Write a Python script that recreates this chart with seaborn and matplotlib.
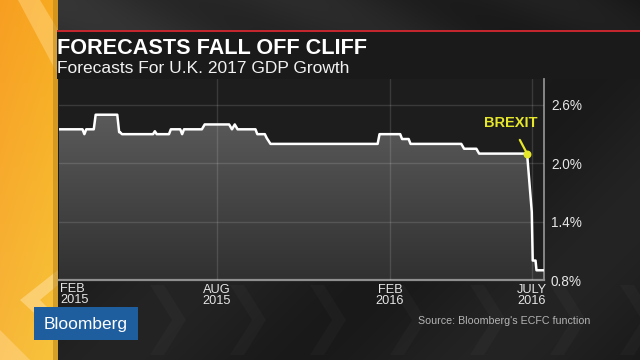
import numpy as np
import pandas as pd
import matplotlib
matplotlib.use("Agg")
import matplotlib.pyplot as plt
import matplotlib.dates as mdates
from matplotlib.patches import Rectangle, Polygon
import seaborn as sns

# ---------------- data ----------------
dates = ["2015-02-14", "2015-03-11", "2015-03-13", "2015-03-15", "2015-03-23",
         "2015-03-25", "2015-04-17", "2015-04-19", "2015-04-20", "2015-04-22",
         "2015-05-25", "2015-05-27", "2015-05-29", "2015-06-11", "2015-06-13",
         "2015-06-23", "2015-06-25", "2015-06-27", "2015-07-16", "2015-07-19",
         "2015-08-14", "2015-08-17", "2015-08-20", "2015-08-23", "2015-09-11",
         "2015-09-13", "2015-09-21", "2015-09-23", "2015-09-27", "2016-01-19",
         "2016-01-21", "2016-02-12", "2016-02-14", "2016-02-21", "2016-02-23",
         "2016-04-17", "2016-04-20", "2016-05-03", "2016-05-06", "2016-06-26",
         "2016-07-01", "2016-07-02", "2016-07-05", "2016-07-06", "2016-07-14"]
values = [2.35, 2.35, 2.30, 2.35, 2.35,
          2.50, 2.50, 2.32, 2.32, 2.30,
          2.30, 2.33, 2.30, 2.30, 2.35,
          2.35, 2.30, 2.35, 2.35, 2.40,
          2.40, 2.35, 2.40, 2.35, 2.35,
          2.30, 2.30, 2.26, 2.20, 2.20,
          2.30, 2.30, 2.25, 2.25, 2.20,
          2.20, 2.15, 2.15, 2.10, 2.10,
          1.50, 1.00, 1.00, 0.90, 0.90]

x_tick_dates = ["2015-08-01", "2016-02-01", "2016-07-01"]
x_tick_labels = ["AUG\n2015", "FEB\n2016", "JULY\n2016"]
first_label = "FEB\n2015"
y_ticks = [0.8, 1.4, 2.0, 2.6]
y_tick_labels = ["0.8%", "1.4%", "2.0%", "2.6%"]
brexit_date = "2016-06-26"
brexit_value = 2.10

title = "FORECASTS FALL OFF CLIFF"
subtitle = "Forecasts For U.K. 2017 GDP Growth"
source = "Source: Bloomberg's ECFC function"

# ---------------- styling ----------------
sns.set_theme(style="dark")
FONT = ["Liberation Sans", "DejaVu Sans"]
plt.rcParams["font.family"] = FONT

W, H = 640, 360
fig = plt.figure(figsize=(6.4, 3.6), dpi=100)
fig.patch.set_facecolor("#1e1e1e")

# background / decoration axes in pixel coordinates
bg = fig.add_axes([0, 0, 1, 1])
bg.set_xlim(0, W)
bg.set_ylim(H, 0)
bg.axis("off")

# dark background field with soft diagonal variation
yy, xx = np.mgrid[0:H, 0:W]
field = 0.12 + 0.02 * np.sin((xx + yy) / 60.0)
field[:31, :] = 0.20 - 0.10 * (xx[:31, :] / W) + 0.02 * np.sin((xx[:31, :] - 2 * yy[:31, :]) / 40.0)
bg.imshow(np.dstack([field] * 3), extent=[0, W, H, 0], aspect="auto", zorder=0)

# faint chevrons in the lower band
for cx in [150, 230, 310, 390, 470, 550, 620]:
    bg.add_patch(Polygon([(cx, 285), (cx + 22, 320), (cx, 355), (cx + 14, 355),
                          (cx + 36, 320), (cx + 14, 285)], closed=True,
                         facecolor="white", alpha=0.025, lw=0, zorder=0.5))

# orange strip at left
oy = np.linspace(0, 1, H)[:, None]
ox = np.linspace(0, 1, 58)[None, :]
g = np.clip(0.62 + 0.10 * oy + 0.05 * ox, 0, 1)
b = np.clip(0.13 + 0.10 * oy + 0 * ox, 0, 1)
bg.imshow(np.dstack([0.97 * np.ones_like(g), g, b]),
          extent=[0, 58, H, 0], aspect="auto", zorder=1)
bg.add_patch(Polygon([(18, 0), (40, 0), (58, 30), (58, 75)], closed=True,
                     facecolor="#ffd27a", alpha=0.55, lw=0, zorder=2))
bg.add_patch(Polygon([(58, 270), (20, 300), (58, 335), (58, 318), (40, 300), (58, 285)],
                     closed=True, facecolor="#ffe0a0", alpha=0.55, lw=0, zorder=2))
bg.add_patch(Polygon([(0, 330), (30, 360), (0, 360)], closed=True,
                     facecolor="#ffd890", alpha=0.5, lw=0, zorder=2))
bg.add_patch(Rectangle((53, 0), 5, H, facecolor="#b8841e", alpha=0.55, lw=0, zorder=2))

# title band
bg.add_patch(Rectangle((57, 31), W - 57, 48, facecolor="#1a1a1a", lw=0, zorder=3))
bg.add_patch(Rectangle((57, 29.5), W - 57, 2.5, facecolor="#c4262e", lw=0, zorder=4))
bg.text(57, 54, title, color="white", fontsize=15.6, fontweight="bold",
        ha="left", va="baseline", zorder=5)
bg.text(57, 73, subtitle, color="#f2f2f2", fontsize=12.5,
        ha="left", va="baseline", zorder=5)

# Bloomberg box and source
bg.add_patch(Rectangle((34, 307), 104, 33, facecolor="#1f5e9e", lw=0, zorder=5))
bg.text(86, 324, "Bloomberg", color="white", fontsize=12.5, ha="center", va="center",
        zorder=6)
bg.text(418, 321, source, color="#b4b4b4", fontsize=7.7, ha="left", va="center",
        zorder=6)

# ---------------- main chart ----------------
df = pd.DataFrame({"date": pd.to_datetime(dates), "value": values})
x_left = pd.Timestamp("2015-02-14")
x_right = pd.Timestamp("2016-07-14")

ax = fig.add_axes([59 / W, 1 - 280 / H, (544 - 59) / W, (280 - 79) / H])
ax.set_facecolor("#1d1d1d")
y_bottom, y_top = 0.8, 2.6 + 26 * (1.8 / 175)
ax.set_xlim(x_left, x_right)
ax.set_ylim(y_bottom, y_top)

# gradient fill under the line
xn = mdates.date2num(df["date"])
grad = np.linspace(0, 1, 256)[:, None]
shade = 0.36 - 0.17 * grad
img = ax.imshow(np.dstack([shade, shade, shade]),
                extent=[mdates.date2num(x_left), mdates.date2num(x_right), y_bottom, 2.55],
                aspect="auto", origin="upper", zorder=1)
clip = Polygon(np.vstack([np.column_stack([xn, df["value"]]),
                          [[xn[-1], y_bottom], [xn[0], y_bottom]]]),
               closed=True, transform=ax.transData)
img.set_clip_path(clip)

sns.lineplot(data=df, x="date", y="value", ax=ax, color="white", linewidth=1.8,
             zorder=4, sort=False)

# ticks and grid
ax.set_xticks(pd.to_datetime(x_tick_dates))
ax.set_xticklabels(x_tick_labels)
ax.set_yticks(y_ticks)
ax.set_yticklabels(y_tick_labels)
ax.yaxis.tick_right()
ax.grid(True, color="white", alpha=0.13, linewidth=1.0)
ax.set_axisbelow(False)
for gl in ax.get_xgridlines() + ax.get_ygridlines():
    gl.set_zorder(2.5)
ax.tick_params(axis="x", length=0, pad=3, labelsize=9.2, labelcolor="#e6e6e6")
ax.tick_params(axis="y", length=0, pad=5, labelsize=9.8, labelcolor="#e6e6e6")
for lab in ax.get_xticklabels():
    lab.set_linespacing(0.9)
ax.set_xlabel("")
ax.set_ylabel("")

for side in ["top", "left"]:
    ax.spines[side].set_visible(False)
ax.spines["bottom"].set_color("#8e8e8e")
ax.spines["bottom"].set_linewidth(1.6)
ax.spines["right"].set_color("#8e8e8e")
ax.spines["right"].set_linewidth(1.3)

ax.text(mdates.date2num(x_left) + 1, y_bottom - 0.03, first_label, ha="left", va="top",
        color="#e6e6e6", fontsize=9.2, linespacing=0.9, clip_on=False)

# Brexit annotation
yellow = "#e6e62a"
ax.scatter([pd.Timestamp(brexit_date)], [brexit_value], s=22, color=yellow, zorder=6)
ax.annotate("BREXIT", xy=(pd.Timestamp(brexit_date), brexit_value),
            xytext=(pd.Timestamp("2016-06-09"), 2.41),
            ha="center", va="center", color=yellow, fontsize=10.5, fontweight="bold",
            arrowprops=dict(arrowstyle="-", color=yellow, lw=1.6, shrinkA=5, shrinkB=0),
            zorder=6)

fig.savefig("out.png", dpi=100, facecolor=fig.get_facecolor())
